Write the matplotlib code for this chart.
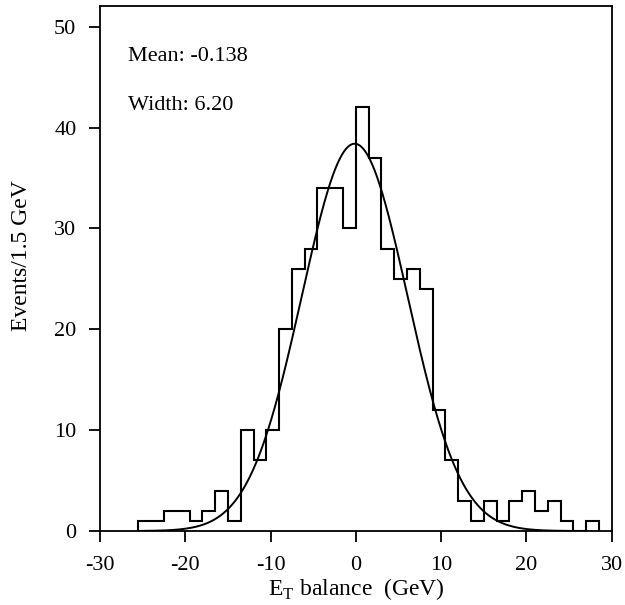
import numpy as np
import matplotlib
matplotlib.use("Agg")
import matplotlib.pyplot as plt

plt.rcParams['font.family'] = ['Liberation Serif', 'DejaVu Serif']
plt.rcParams['axes.unicode_minus'] = False
plt.rcParams['mathtext.fontset'] = 'custom'
plt.rcParams['mathtext.rm'] = 'Liberation Serif'

# Histogram data (bin width 1.5 GeV)
bin_start = -25.5
bin_width = 1.5
counts = [1, 1, 2, 2, 1, 2, 4, 1, 10, 7, 10, 20, 26, 28, 34, 34, 30,
          42, 37, 28, 25, 26, 24, 12, 7, 3, 1, 3, 1, 3, 4, 2, 3, 1, 0, 1]
edges = bin_start + bin_width * np.arange(len(counts) + 1)

# Gaussian fit parameters
fit_mean = -0.138
fit_width = 6.20
fit_amp = 38.4
fit_range = (-25.5, 25.5)

fig = plt.figure(figsize=(6.25, 6.05), dpi=100)
ax = fig.add_axes([0.16, 0.1223, 0.8187, 0.8677])

ax.stairs(counts, edges, color='black', linewidth=1.5, baseline=0)
xf = np.linspace(fit_range[0], fit_range[1], 600)
ax.plot(xf, fit_amp * np.exp(-0.5 * ((xf - fit_mean) / fit_width) ** 2),
        color='black', linewidth=1.4)

ax.set_xlim(-30, 30)
ax.set_ylim(0, 52.05)
ax.set_xticks([-30, -20, -10, 0, 10, 20, 30])
ax.set_yticks([0, 10, 20, 30, 40, 50])
ax.tick_params(direction='out', length=8, width=1.3, labelsize=16)
ax.tick_params(axis='x', pad=10)
ax.tick_params(axis='y', pad=9)
for s in ax.spines.values():
    s.set_linewidth(1.3)

ax.set_xlabel(r'E$_\mathrm{T}$ balance  (GeV)', fontsize=17, labelpad=1)
ax.set_ylabel('Events/1.5 GeV', fontsize=17)
ax.yaxis.set_label_coords(-0.133, 0.524)

ax.text(0.055, 0.903, 'Mean: -0.138', transform=ax.transAxes, fontsize=16,
        ha='left', va='center')
ax.text(0.055, 0.811, 'Width: 6.20', transform=ax.transAxes, fontsize=16,
        ha='left', va='center')

fig.savefig('out.png', dpi=100)
